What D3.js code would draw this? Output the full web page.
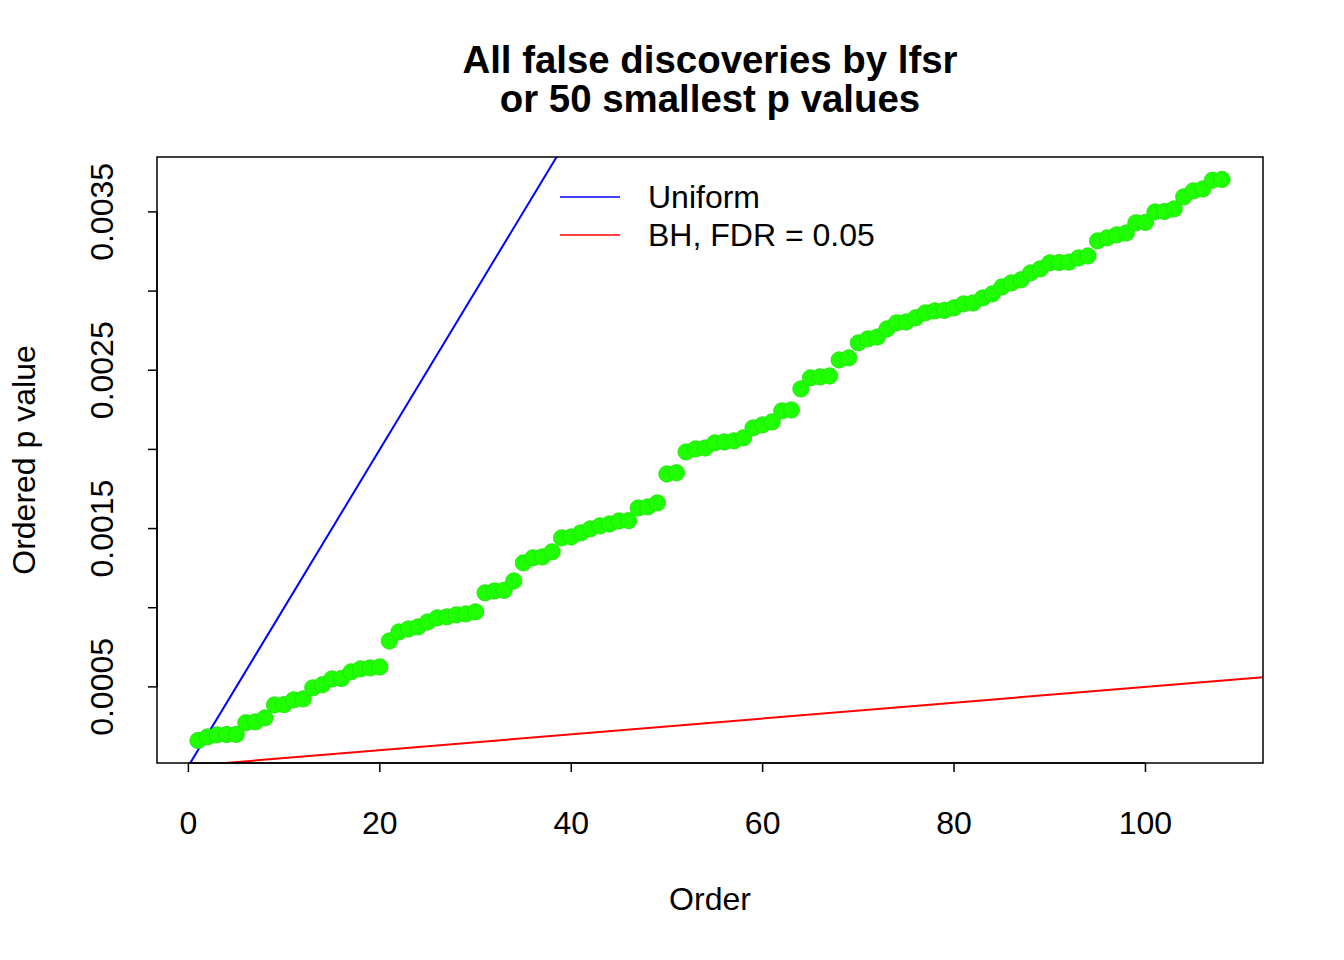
<!DOCTYPE html>
<html><head><meta charset="utf-8">
<script src="https://cdn.jsdelivr.net/npm/d3@7"></script>
<style>body{margin:0;background:#fff}svg{display:block}text{font-family:"Liberation Sans",Arial,sans-serif}</style>
</head><body>
<script>
const pvals = [0.000161,0.000184,0.000197,0.000199,0.000200,0.000273,0.000279,0.000304,0.000386,0.000388,
0.000418,0.000424,0.000494,0.000513,0.000550,0.000553,0.000595,0.000614,0.000620,0.000626,
0.000790,0.000847,0.000866,0.000879,0.000910,0.000936,0.000942,0.000955,0.000961,0.000974,
0.001094,0.001106,0.001110,0.001169,0.001283,0.001315,0.001321,0.001353,0.001441,0.001447,
0.001473,0.001498,0.001517,0.001529,0.001548,0.001550,0.001630,0.001637,0.001662,0.001845,
0.001852,0.001984,0.002003,0.002009,0.002041,0.002047,0.002054,0.002073,0.002136,0.002155,
0.002174,0.002243,0.002249,0.002382,0.002452,0.002458,0.002464,0.002565,0.002578,0.002673,
0.002698,0.002710,0.002761,0.002799,0.002805,0.002831,0.002862,0.002875,0.002878,0.002894,
0.002919,0.002925,0.002957,0.002982,0.003026,0.003052,0.003071,0.003115,0.003140,0.003178,
0.003180,0.003183,0.003209,0.003222,0.003317,0.003336,0.003355,0.003367,0.003431,0.003434,
0.003500,0.003503,0.003519,0.003595,0.003633,0.003645,0.003700,0.003705];
const xTicks = [0,20,40,60,80,100];
const yTicks = [0.0005,0.0010,0.0015,0.0020,0.0025,0.0030,0.0035];
const yLabelTicks = [0.0005,0.0015,0.0025,0.0035];
const nTests = 10000, fdr = 0.05;
const titleLines = ["All false discoveries by lfsr","or 50 smallest p values"];
const legendItems = [{label:"Uniform",color:"#0000ff"},{label:"BH, FDR = 0.05",color:"#ff0000"}];

const W=1344,H=960, L=157,R=1263,T=157,B=763, FS=32;
const svg=d3.select("body").append("svg").attr("width",W).attr("height",H);
const n=pvals.length;
const xr=[1,n], xs=(xr[1]-xr[0])*0.04;
const yr=d3.extent(pvals), ys=(yr[1]-yr[0])*0.04;
const x=d3.scaleLinear().domain([xr[0]-xs,xr[1]+xs]).range([L,R]);
const y=d3.scaleLinear().domain([yr[0]-ys,yr[1]+ys]).range([B,T]);

svg.append("clipPath").attr("id","clip").append("rect").attr("x",L).attr("y",T).attr("width",R-L).attr("height",B-T);
const g=svg.append("g").attr("clip-path","url(#clip)");
const xd=x.domain();
g.append("line").attr("x1",x(xd[0])).attr("y1",y(xd[0]/nTests)).attr("x2",x(xd[1])).attr("y2",y(xd[1]/nTests))
 .attr("stroke","#0000ff").attr("stroke-width",2);
g.append("line").attr("x1",x(xd[0])).attr("y1",y(fdr*xd[0]/nTests)).attr("x2",x(xd[1])).attr("y2",y(fdr*xd[1]/nTests))
 .attr("stroke","#ff0000").attr("stroke-width",2);
g.selectAll("circle").data(pvals).enter().append("circle")
 .attr("cx",(d,i)=>x(i+1)).attr("cy",d=>y(d)).attr("r",8.2)
 .attr("fill","#1eff00").attr("stroke","#22dd10").attr("stroke-width",0.8);

svg.append("rect").attr("x",L).attr("y",T).attr("width",R-L).attr("height",B-T)
 .attr("fill","none").attr("stroke","#000").attr("stroke-width",1.5);

// x axis
const xa=svg.append("g");
xa.append("line").attr("x1",x(0)).attr("x2",x(100)).attr("y1",B).attr("y2",B).attr("stroke","#000").attr("stroke-width",1.5);
xTicks.forEach(t=>{
  xa.append("line").attr("x1",x(t)).attr("x2",x(t)).attr("y1",B).attr("y2",B+9).attr("stroke","#000").attr("stroke-width",1.5);
  xa.append("text").attr("x",x(t)).attr("y",834).attr("text-anchor","middle").attr("font-size",FS).text(t);
});
// y axis
const ya=svg.append("g");
ya.append("line").attr("x1",L).attr("x2",L).attr("y1",y(yTicks[0])).attr("y2",y(yTicks[yTicks.length-1])).attr("stroke","#000").attr("stroke-width",1.5);
yTicks.forEach(t=>{
  ya.append("line").attr("x1",L-9).attr("x2",L).attr("y1",y(t)).attr("y2",y(t)).attr("stroke","#000").attr("stroke-width",1.5);
});
yLabelTicks.forEach(t=>{
  ya.append("text").attr("transform",`translate(113,${y(t)}) rotate(-90)`).attr("text-anchor","middle")
   .attr("font-size",FS).text(d3.format(".4f")(t));
});
// axis titles
svg.append("text").attr("x",(L+R)/2).attr("y",910).attr("text-anchor","middle").attr("font-size",FS).text("Order");
svg.append("text").attr("transform",`translate(35,${(T+B)/2}) rotate(-90)`).attr("text-anchor","middle").attr("font-size",FS).text("Ordered p value");
// title
titleLines.forEach((s,i)=>{
  svg.append("text").attr("x",(L+R)/2).attr("y",73+i*39).attr("text-anchor","middle")
   .attr("font-size",FS*1.2).attr("font-weight","bold").text(s);
});
// legend
legendItems.forEach((it,i)=>{
  const yy=197+i*38;
  svg.append("line").attr("x1",560).attr("x2",620).attr("y1",yy).attr("y2",yy).attr("stroke",it.color).attr("stroke-width",1.5);
  svg.append("text").attr("x",648).attr("y",yy+11).attr("font-size",FS).text(it.label);
});
</script>
</body></html>
